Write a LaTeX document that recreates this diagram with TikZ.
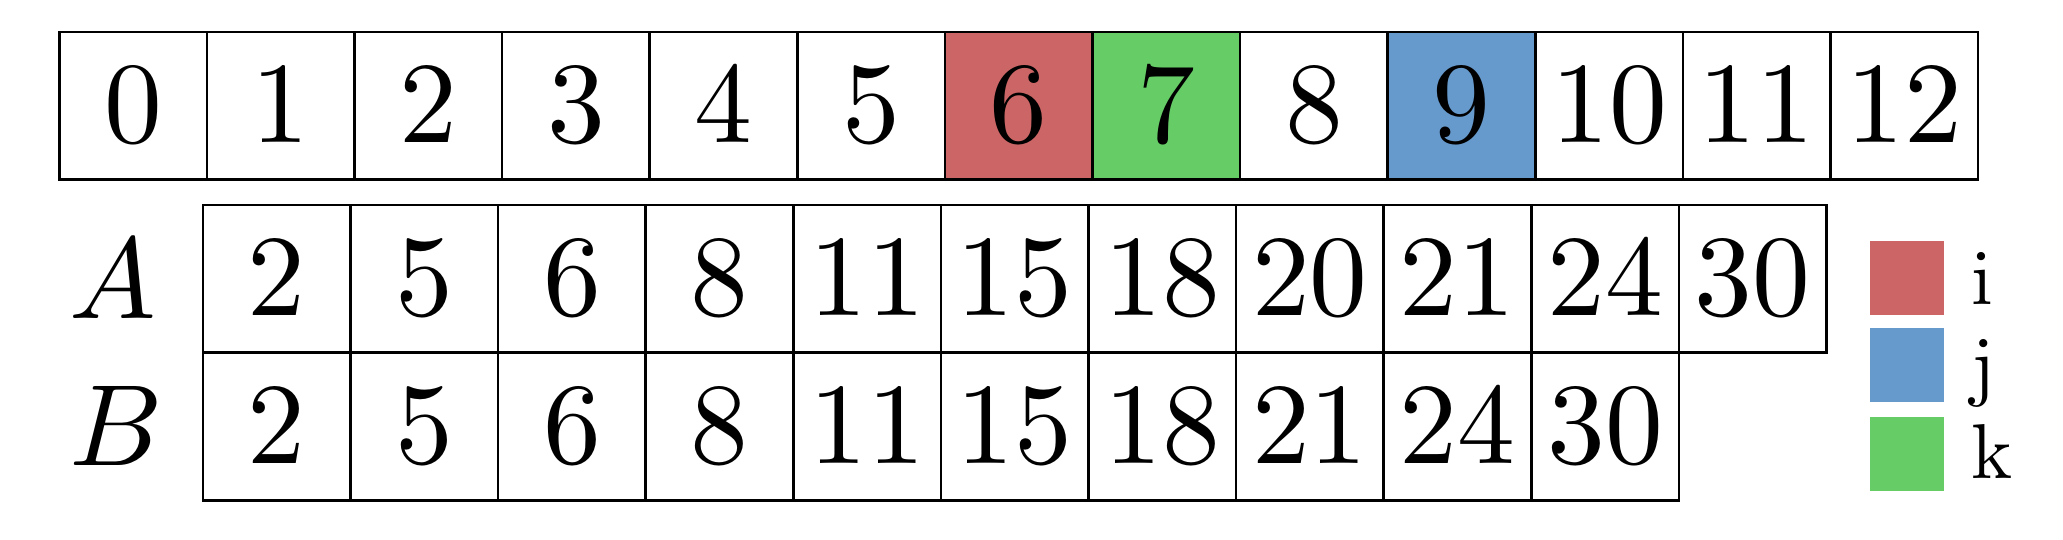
\documentclass[tikz,border=0pt]{standalone}
\usepackage{tikz}

\definecolor{idxred}{HTML}{CC6666}
\definecolor{idxblue}{HTML}{6699CC}
\definecolor{idxgreen}{HTML}{66CC66}

\font\celldigits=cmr10 at 22.3pt
\font\rowital=cmmi10 at 22.3pt
\font\keyletters=cmr10 at 15pt

\tikzset{
  cell/.style={draw, line width=0.5pt, minimum size=1cm, inner sep=0pt, font=\celldigits},
  rowname/.style={inner sep=0pt, font=\rowital},
  keybox/.style={minimum size=0.5cm, inner sep=0pt},
  keytext/.style={anchor=base west, inner sep=0pt, font=\keyletters}
}

\begin{document}
\begin{tikzpicture}
\useasboundingbox (0,0) rectangle (13.977,-3.652);

% index row
\node[cell] (t0) at (0.902,-0.716) {0}; \node[cell] (t1) at (1.902,-0.716) {1}; \node[cell] (t2) at (2.902,-0.716) {2};
\node[cell] (t3) at (3.902,-0.716) {3}; \node[cell] (t4) at (4.902,-0.716) {4}; \node[cell] (t5) at (5.902,-0.716) {5};
\node[cell, fill=idxred] (t6) at (6.902,-0.716) {6}; \node[cell, fill=idxgreen] (t7) at (7.902,-0.716) {7};
\node[cell] (t8) at (8.902,-0.716) {8}; \node[cell, fill=idxblue] (t9) at (9.902,-0.716) {9};
\node[cell] (t10) at (10.902,-0.716) {10}; \node[cell] (t11) at (11.902,-0.716) {11}; \node[cell] (t12) at (12.902,-0.716) {12};

% array A
\node[rowname] (labA) at (0.765,-1.888) {A};
\node[cell] (a1) at (1.875,-1.888) {2}; \node[cell] (a2) at (2.875,-1.888) {5}; \node[cell] (a3) at (3.875,-1.888) {6};
\node[cell] (a4) at (4.875,-1.888) {8}; \node[cell] (a5) at (5.875,-1.888) {11}; \node[cell] (a6) at (6.875,-1.888) {15};
\node[cell] (a7) at (7.875,-1.888) {18}; \node[cell] (a8) at (8.875,-1.888) {20}; \node[cell] (a9) at (9.875,-1.888) {21};
\node[cell] (a10) at (10.875,-1.888) {24}; \node[cell] (a11) at (11.875,-1.888) {30};

% array B
\node[rowname] (labB) at (0.765,-2.889) {B};
\node[cell] (b1) at (1.875,-2.889) {2}; \node[cell] (b2) at (2.875,-2.889) {5}; \node[cell] (b3) at (3.875,-2.889) {6};
\node[cell] (b4) at (4.875,-2.889) {8}; \node[cell] (b5) at (5.875,-2.889) {11}; \node[cell] (b6) at (6.875,-2.889) {15};
\node[cell] (b7) at (7.875,-2.889) {18}; \node[cell] (b8) at (8.875,-2.889) {21}; \node[cell] (b9) at (9.875,-2.889) {24};
\node[cell] (b10) at (10.875,-2.889) {30};

% legend
\node[keybox, fill=idxred] (keyI) at (12.92,-1.883) {}; \node[keytext] (txtI) at (13.35,-2.06) {i};
\node[keybox, fill=idxblue] (keyJ) at (12.92,-2.472) {}; \node[keytext] (txtJ) at (13.35,-2.65) {j};
\node[keybox, fill=idxgreen] (keyK) at (12.92,-3.075) {}; \node[keytext] (txtK) at (13.35,-3.24) {k};

\end{tikzpicture}
\end{document}
